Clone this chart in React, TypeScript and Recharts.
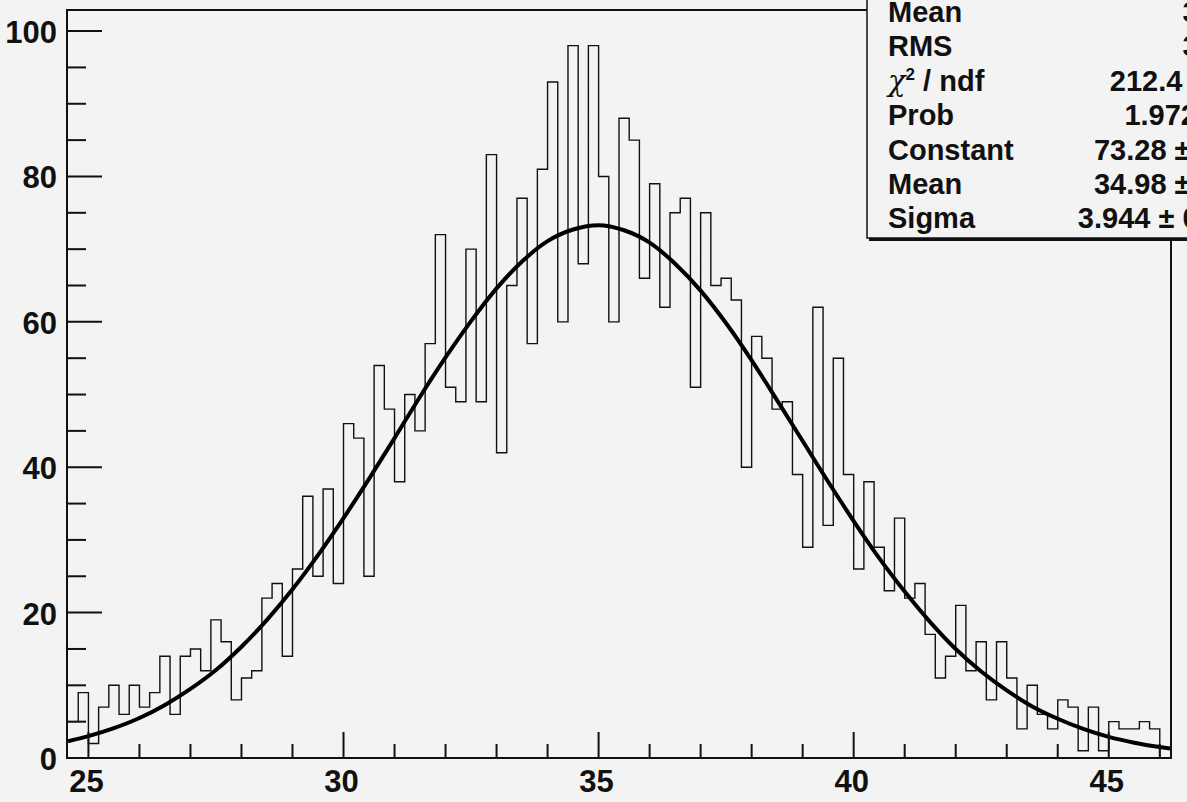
import { ComposedChart, Line, XAxis, YAxis, ReferenceArea } from 'recharts';

// histogram binning (bin edges start at 24.6, width 0.2)
const BIN_START = 24.6;
const BIN_WIDTH = 0.2;
const X_DOMAIN: [number, number] = [24.58, 46.22];
const Y_DOMAIN: [number, number] = [0, 102.9];

const binCounts = [
  5, 9, 2, 7, 10, 6, 10, 7, 9, 14,
  6, 14, 15, 12, 19, 16, 8, 11, 12, 22,
  24, 14, 26, 36, 25, 37, 24, 46, 44, 25,
  54, 48, 38, 50, 45, 57, 72, 51, 49, 70,
  49, 83, 42, 65, 77, 57, 81, 93, 60, 98,
  68, 98, 80, 60, 88, 85, 66, 79, 62, 75,
  77, 51, 75, 65, 66, 63, 40, 58, 55, 48,
  49, 39, 29, 62, 32, 55, 39, 26, 38, 29,
  23, 33, 22, 24, 17, 11, 14, 21, 12, 16,
  8, 16, 11, 4, 10, 6, 4, 8, 7, 1,
  7, 1, 5, 4, 4, 5, 4, 0,
];

// gaussian fit curve
const fitX = [
  24.6, 25, 25.5, 26, 26.5, 27, 27.5, 28, 28.5, 29, 29.5, 30, 30.5, 31, 31.5, 32,
  32.5, 33, 33.5, 34, 34.5, 35, 35.5, 36, 36.5, 37, 37.5, 38, 38.5, 39, 39.5, 40,
  40.5, 41, 41.5, 42, 42.5, 43, 43.5, 44, 44.5, 45, 45.5, 46, 46.2,
];
const fitY = [
  2.3, 3.0, 4.1, 5.5, 7.3, 9.5, 12.1, 15.3, 19.0, 23.2, 27.9, 33.0, 38.4, 44.0, 49.7, 55.1,
  60.1, 64.6, 68.3, 71.1, 72.7, 73.3, 72.6, 70.9, 68.0, 64.3, 59.8, 54.7, 49.2, 43.6, 38.0, 32.6,
  27.5, 22.9, 18.7, 15.0, 11.9, 9.3, 7.1, 5.4, 4.0, 2.9, 2.1, 1.5, 1.3,
];

const xTicks = [25, 26, 27, 28, 29, 30, 31, 32, 33, 34, 35, 36, 37, 38, 39, 40, 41, 42, 43, 44, 45, 46];
const yTicks = [0, 5, 10, 15, 20, 25, 30, 35, 40, 45, 50, 55, 60, 65, 70, 75, 80, 85, 90, 95, 100];

const statLabels = ['Mean', 'RMS', 'chi2', 'Prob', 'Constant', 'Mean', 'Sigma'];
const statValues = ['35.01', '3.982', '212.4 / 104', '1.972e-08', '73.28 \u00b1 2.92', '34.98 \u00b1 0.05', '3.944 \u00b1 0.045'];

const BG = '#f3f3f3';
const INK = '#111';
const FONT = '"Liberation Sans", Arial, Helvetica, sans-serif';

const histData = [
  ...binCounts.map((c, i) => ({ x: Number((BIN_START + i * BIN_WIDTH).toFixed(2)), y: c })),
  { x: Number((BIN_START + binCounts.length * BIN_WIDTH).toFixed(2)), y: 0 },
];
const fitData = fitX.map((x, i) => ({ x, y: fitY[i] }));

const XTick = (props: any) => {
  const { x, y, payload } = props;
  const major = payload.value % 5 === 0;
  return (
    <g>
      <line x1={x} x2={x} y1={y} y2={y - (major ? 26 : 14)} stroke={INK} strokeWidth={2} />
      {major && (
        <text x={x - 2} y={y + 34} textAnchor="middle" fontFamily={FONT} fontWeight="bold" fontSize={31} fill={INK}>
          {payload.value}
        </text>
      )}
    </g>
  );
};

const YTick = (props: any) => {
  const { x, y, payload } = props;
  const major = payload.value % 20 === 0;
  return (
    <g>
      <line x1={x} x2={x + (major ? 35 : 19)} y1={y} y2={y} stroke={INK} strokeWidth={2} />
      {major && (
        <text x={x - 10} y={y + 12} textAnchor="end" fontFamily={FONT} fontWeight="bold" fontSize={31} fill={INK}>
          {payload.value}
        </text>
      )}
    </g>
  );
};

const StatsBox = () => (
  <svg width={1187} height={802} style={{ position: 'absolute', left: 0, top: 0, pointerEvents: 'none' }}>
    <rect x={869} y={-10} width={400} height={251} fill={INK} />
    <rect x={867} y={-12} width={400} height={250} fill={BG} stroke={INK} strokeWidth={1.5} />
    {statLabels.map((label, i) => {
      const baseY = 22 + i * 34.4;
      return (
        <g key={i} fontFamily={FONT} fontWeight="bold" fontSize={29} fill={INK}>
          <text x={888} y={baseY}>
            {label === 'chi2' ? (
              <>
                <tspan fontFamily="'DejaVu Serif', serif" fontStyle="italic" fontWeight="normal">χ</tspan>
                <tspan dy={-11} fontSize={17}>2</tspan>
                <tspan dy={11}> / ndf</tspan>
              </>
            ) : (
              label
            )}
          </text>
          <text x={1255} y={baseY} textAnchor="end">
            {statValues[i]}
          </text>
        </g>
      );
    })}
  </svg>
);

export default function App() {
  return (
    <div style={{ position: 'absolute', left: 0, top: 0, width: 1187, height: 802, background: BG, overflow: 'hidden' }}>
      <ComposedChart width={1187} height={802} margin={{ top: 10, right: 16, bottom: 0, left: 0 }}>
        <XAxis
          type="number"
          dataKey="x"
          domain={X_DOMAIN}
          allowDataOverflow
          ticks={xTicks}
          interval={0}
          height={44}
          tickSize={0}
          tickMargin={0}
          axisLine={false}
          tickLine={false}
          tick={XTick}
        />
        <YAxis
          type="number"
          dataKey="y"
          domain={Y_DOMAIN}
          allowDataOverflow
          ticks={yTicks}
          interval={0}
          width={67}
          tickSize={0}
          tickMargin={0}
          axisLine={false}
          tickLine={false}
          tick={YTick}
        />
        <ReferenceArea
          x1={X_DOMAIN[0]}
          x2={X_DOMAIN[1]}
          y1={Y_DOMAIN[0]}
          y2={Y_DOMAIN[1]}
          fill="none"
          fillOpacity={0}
          stroke={INK}
          strokeWidth={2}
          ifOverflow="visible"
        />
        <Line
          data={histData}
          dataKey="y"
          type="stepAfter"
          stroke={INK}
          strokeWidth={1.4}
          dot={false}
          activeDot={false}
          isAnimationActive={false}
        />
        <Line
          data={fitData}
          dataKey="y"
          type="monotone"
          stroke="#000"
          strokeWidth={4}
          dot={false}
          activeDot={false}
          isAnimationActive={false}
        />
      </ComposedChart>
      <StatsBox />
    </div>
  );
}
